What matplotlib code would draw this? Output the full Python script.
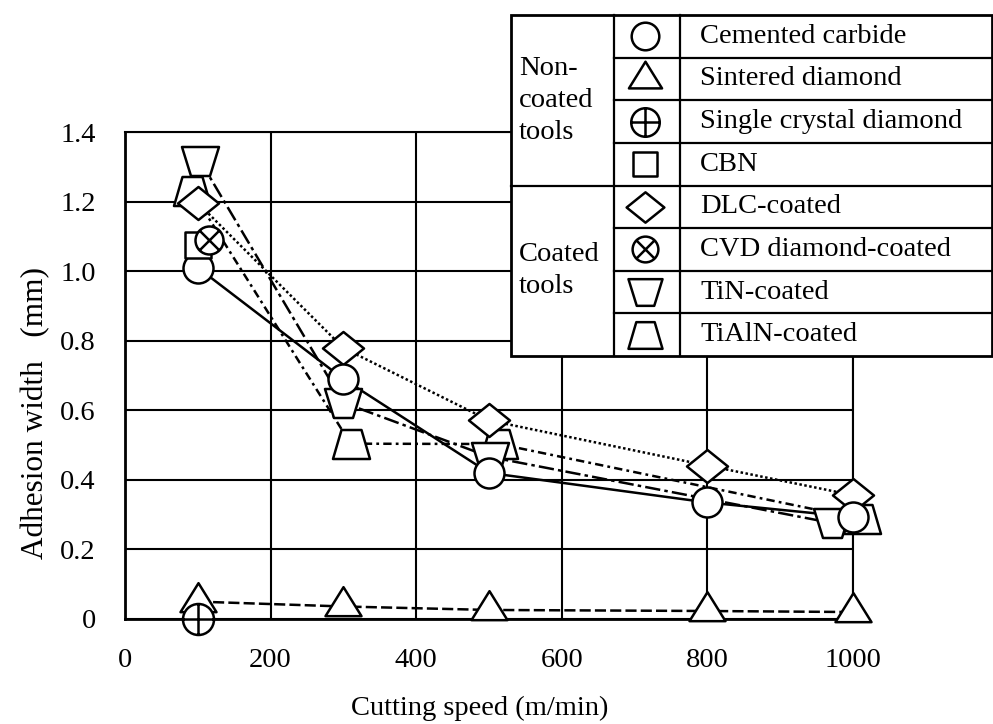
import numpy as np
import matplotlib
matplotlib.use("Agg")
import matplotlib.pyplot as plt
from matplotlib.path import Path
from matplotlib.patches import Rectangle

plt.rcParams['font.family'] = ['Liberation Serif', 'DejaVu Serif']
plt.rcParams['lines.scale_dashes'] = False

DPI = 100
W, H = 993, 724
PT = 72 / DPI  # points per pixel
FS = 20.5

# ---- data -------------------------------------------------------------
speed = [100, 300, 500, 800, 1000]
cemented_carbide = [1.01, 0.69, 0.42, 0.335, 0.293]
sintered_diamond = [0.05, 0.036, 0.026, 0.023, 0.02]
single_crystal_x = [100]
single_crystal_diamond = [0.0]
cbn_x = [100]
cbn = [1.075]
dlc_coated = [1.196, 0.779, 0.571, 0.441, 0.356]
cvd_x = [115]
cvd_diamond_coated = [1.09]
tin_x = [103, 300, 501, 971]
tin_coated = [1.318, 0.622, 0.466, 0.276]
tialn_x = [92, 310, 514, 1012]
tialn_coated = [1.229, 0.504, 0.503, 0.287]

x_ticks = [0, 200, 400, 600, 800, 1000]
x_tick_labels = ['0', '200', '400', '600', '800', '1000']
y_ticks = [0, 0.2, 0.4, 0.6, 0.8, 1.0, 1.2, 1.4]
y_tick_labels = ['0', '0.2', '0.4', '0.6', '0.8', '1.0', '1.2', '1.4']

legend_groups = ['Non-\ncoated\ntools', 'Coated\ntools']
legend_labels = ['Cemented carbide', 'Sintered diamond', 'Single crystal diamond',
                 'CBN', 'DLC-coated', 'CVD diamond-coated', 'TiN-coated',
                 'TiAlN-coated']


# ---- marker shapes (sizes given in pixels) -----------------------------
def poly_marker(points):
    pts = np.asarray(points, float)
    verts = np.vstack([pts, pts[:1]])
    codes = [Path.MOVETO] + [Path.LINETO] * (len(pts) - 1) + [Path.CLOSEPOLY]
    size = 2 * np.max(np.abs(pts)) * PT
    return Path(verts, codes), size


def triangle(w, h):
    return poly_marker([(0, 2 * h / 3), (w / 2, -h / 3), (-w / 2, -h / 3)])


def diamond(w, h):
    return poly_marker([(0, h / 2), (w / 2, 0), (0, -h / 2), (-w / 2, 0)])


def trapezoid(top, bottom, h):
    return poly_marker([(-top / 2, h / 2), (top / 2, h / 2),
                        (bottom / 2, -h / 2), (-bottom / 2, -h / 2)])


def square(s):
    return poly_marker([(-s / 2, -s / 2), (s / 2, -s / 2), (s / 2, s / 2), (-s / 2, s / 2)])


def circled(kind):
    r = 1 / np.sqrt(2)
    if kind == 'plus':
        inner = Path([(-1, 0), (1, 0), (0, -1), (0, 1)],
                     [Path.MOVETO, Path.LINETO, Path.MOVETO, Path.LINETO])
    else:
        inner = Path([(-r, -r), (r, r), (-r, r), (r, -r)],
                     [Path.MOVETO, Path.LINETO, Path.MOVETO, Path.LINETO])
    return Path.make_compound_path(Path.unit_circle(), inner)


def markers(scale):
    """Marker specs (path/name, markersize) for each series."""
    s = scale
    return [
        ('o', 30 * s * PT),
        triangle(36 * s, 29 * s),
        (circled('plus'), 31 * s * PT),
        square(27 * s),
        diamond(41 * s, 33 * s),
        (circled('cross'), 28 * s * PT),
        trapezoid(37 * s, 19 * s, 29 * s),
        trapezoid(20 * s, 37 * s, 29 * s),
    ]


plot_markers = markers(1.0)

fig = plt.figure(figsize=(W / DPI, H / DPI), dpi=DPI)
ax = fig.add_axes([125 / W, 1 - 619 / H, 728 / W, 487 / H])
ax.set_xlim(0, 1000)
ax.set_ylim(0, 1.4)
ax.set_xticks(x_ticks, x_tick_labels)
ax.set_yticks(y_ticks, y_tick_labels)
ax.tick_params(length=0, pad=21, labelsize=FS)
ax.grid(True, color='black', lw=1.5)
ax.set_axisbelow(True)
for side, sp in ax.spines.items():
    sp.set_linewidth(2.0 if side in ('left', 'bottom') else 1.5)

LW = 1.8
line_series = [
    (speed, cemented_carbide, '-'),
    (speed, sintered_diamond, (0, (8, 3))),
    (speed, dlc_coated, (0, (1.8, 1.8))),
    (tin_x, tin_coated, (0, (11, 3, 2.5, 3))),
    (tialn_x, tialn_coated, (0, (6, 3, 2, 3))),
]
for xs, ys, ls in line_series:
    ax.plot(xs, ys, color='black', lw=LW, linestyle=ls, zorder=2, clip_on=False)

# marker layers, drawn back to front
series = [
    (tialn_x, tialn_coated, 7),
    (tin_x, tin_coated, 6),
    (speed, dlc_coated, 4),
    (speed, cemented_carbide, 0),
    (cbn_x, cbn, 3),
    (cvd_x, cvd_diamond_coated, 5),
    (speed, sintered_diamond, 1),
    (single_crystal_x, single_crystal_diamond, 2),
]
for z, (xs, ys, idx) in enumerate(series):
    mk, ms = plot_markers[idx]
    ax.plot(xs, ys, linestyle='none', marker=mk, ms=ms, mfc='white', mec='black',
            mew=LW, zorder=3 + z, clip_on=False)

fig.text(480 / W, 1 - 708 / H, 'Cutting speed (m/min)', fontsize=FS,
         ha='center', va='center')
fig.text(36 / W, 1 - 413 / H, 'Adhesion width   (mm)', fontsize=22.5,
         ha='center', va='center', rotation=90)

# ---- legend table (axes in pixel units) -------------------------------
L, R, T, B = 511, 992, 15, 356
lax = fig.add_axes([L / W, 1 - B / H, (R - L) / W, (B - T) / H], zorder=10)
lax.set_xlim(L, R)
lax.set_ylim(B, T)
lax.axis('off')
lax.add_patch(Rectangle((L, T), R - L, B - T, facecolor='white', edgecolor='black',
                        lw=2.0, clip_on=False, zorder=1))
c1, c2 = 614, 680
row_h = (B - T) / 8
for i in range(1, 8):
    y = T + i * row_h
    lax.plot([L if i == 4 else c1, R], [y, y], color='black', lw=1.6, zorder=2,
             clip_on=False)
for x in (c1, c2):
    lax.plot([x, x], [T, B], color='black', lw=1.6, zorder=2, clip_on=False)

group_rows = [(0, 4), (4, 4)]
for text, (start, n) in zip(legend_groups, group_rows):
    lines = text.split('\n')
    mid = T + (start + n / 2) * row_h
    step = 32
    for j, ln in enumerate(lines):
        yy = mid + (j - (len(lines) - 1) / 2) * step
        lax.text(519, yy, ln, fontsize=FS, ha='left', va='center')

legend_markers = markers(0.92)
for i, label in enumerate(legend_labels):
    yc = T + (i + 0.5) * row_h
    mk, ms = legend_markers[i]
    lax.plot([645], [yc], linestyle='none', marker=mk, ms=ms, mfc='white',
             mec='black', mew=LW, zorder=3, clip_on=False)
    lax.text(700, yc, label, fontsize=FS, ha='left', va='center')

fig.savefig('out.png', dpi=DPI)
